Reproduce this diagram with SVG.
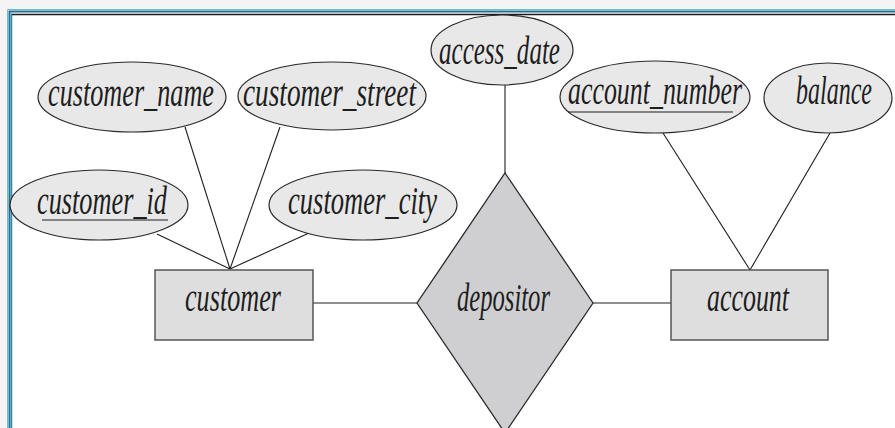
<svg xmlns="http://www.w3.org/2000/svg" width="895" height="428" viewBox="0 0 895 428">
<style>
.attr{fill:#e8e8e8;stroke:#2a2a2a;stroke-width:1.2}
.ent{fill:#dedede;stroke:#555;stroke-width:1.5}
.rel{fill:#cfcfd1;stroke:#2a2a2a;stroke-width:1.3}
.t{font-family:"Liberation Serif","Times New Roman",serif;font-style:italic;font-size:30px;fill:#1e1e1e}
.ln{stroke:#1e1e1e;stroke-width:1.1;fill:none}
.ul{stroke:#1e1e1e;stroke-width:1.2}
</style>
<rect x="0" y="0" width="895" height="428" fill="#f4f4f4"/>
<rect x="8" y="10" width="887" height="418" fill="#ffffff"/>
<g id="frame" fill="none">
<path d="M7.5,428 V9.5 H895" stroke="#7db6ca" stroke-width="1"/>
<path d="M9.5,428 V11.5 H895" stroke="#1b7191" stroke-width="2"/>
<path d="M11.5,428 V13.5" stroke="#2a86a6" stroke-width="1.5"/>
<path d="M12,14.5 H895" stroke="#1a1a1a" stroke-width="1.5"/>
</g>
<g id="connectors">
<line class="ln" x1="157" y1="234" x2="230" y2="269"/>
<line class="ln" x1="185" y1="127" x2="230" y2="269"/>
<line class="ln" x1="280" y1="127" x2="230" y2="269"/>
<line class="ln" x1="309" y1="233" x2="230" y2="269"/>
<line class="ln" x1="663" y1="133" x2="750" y2="270"/>
<line class="ln" x1="830" y1="133" x2="750" y2="270"/>
<line class="ln" x1="505" y1="85" x2="505" y2="173"/>
<line class="ln" x1="313" y1="303" x2="417" y2="303"/>
<line class="ln" x1="593" y1="303" x2="671" y2="303"/>
</g>
<g id="customer_name">
<ellipse class="attr" cx="132" cy="97" rx="94" ry="35"/>
<text class="t" x="48" y="106" transform="matrix(1,0,0,1.3,0,-31.8)" textLength="166" lengthAdjust="spacingAndGlyphs">customer_name</text>
</g>
<g id="customer_street">
<ellipse class="attr" cx="332" cy="96" rx="94" ry="34"/>
<text class="t" x="243" y="106" transform="matrix(1,0,0,1.3,0,-31.8)" textLength="173" lengthAdjust="spacingAndGlyphs">customer_street</text>
</g>
<g id="access_date">
<ellipse class="attr" cx="502" cy="50" rx="71" ry="35"/>
<text class="t" x="439" y="64" transform="matrix(1,0,0,1.3,0,-19.2)" textLength="121" lengthAdjust="spacingAndGlyphs">access_date</text>
</g>
<g id="account_number">
<ellipse class="attr" cx="655" cy="97" rx="95" ry="36"/>
<text class="t" x="568" y="104" transform="matrix(1,0,0,1.3,0,-31.2)" textLength="174" lengthAdjust="spacingAndGlyphs">account_number</text>
<line class="ul" x1="568" y1="112" x2="733" y2="112"/>
</g>
<g id="balance">
<ellipse class="attr" cx="828" cy="98" rx="64" ry="35"/>
<text class="t" x="796" y="104" transform="matrix(1,0,0,1.3,0,-31.2)" textLength="76" lengthAdjust="spacingAndGlyphs">balance</text>
</g>
<g id="customer_id">
<ellipse class="attr" cx="99" cy="205" rx="89" ry="35"/>
<text class="t" x="37" y="214" transform="matrix(1,0,0,1.3,0,-64.2)" textLength="130" lengthAdjust="spacingAndGlyphs">customer_id</text>
<line class="ul" x1="42" y1="220" x2="168" y2="220"/>
</g>
<g id="customer_city">
<ellipse class="attr" cx="363" cy="205" rx="94" ry="35"/>
<text class="t" x="288" y="214" transform="matrix(1,0,0,1.3,0,-64.2)" textLength="149" lengthAdjust="spacingAndGlyphs">customer_city</text>
</g>
<g id="customer">
<rect class="ent" x="155" y="270" width="158" height="70"/>
<text class="t" x="185" y="311" transform="matrix(1,0,0,1.3,0,-93.3)" textLength="96" lengthAdjust="spacingAndGlyphs">customer</text>
</g>
<g id="depositor">
<polygon class="rel" points="505,173 593,303 505,433 417,303"/>
<text class="t" x="457" y="311" transform="matrix(1,0,0,1.3,0,-93.3)" textLength="93" lengthAdjust="spacingAndGlyphs">depositor</text>
</g>
<g id="account">
<rect class="ent" x="671" y="270" width="157" height="70"/>
<text class="t" x="707" y="311" transform="matrix(1,0,0,1.3,0,-93.3)" textLength="82" lengthAdjust="spacingAndGlyphs">account</text>
</g>
</svg>
